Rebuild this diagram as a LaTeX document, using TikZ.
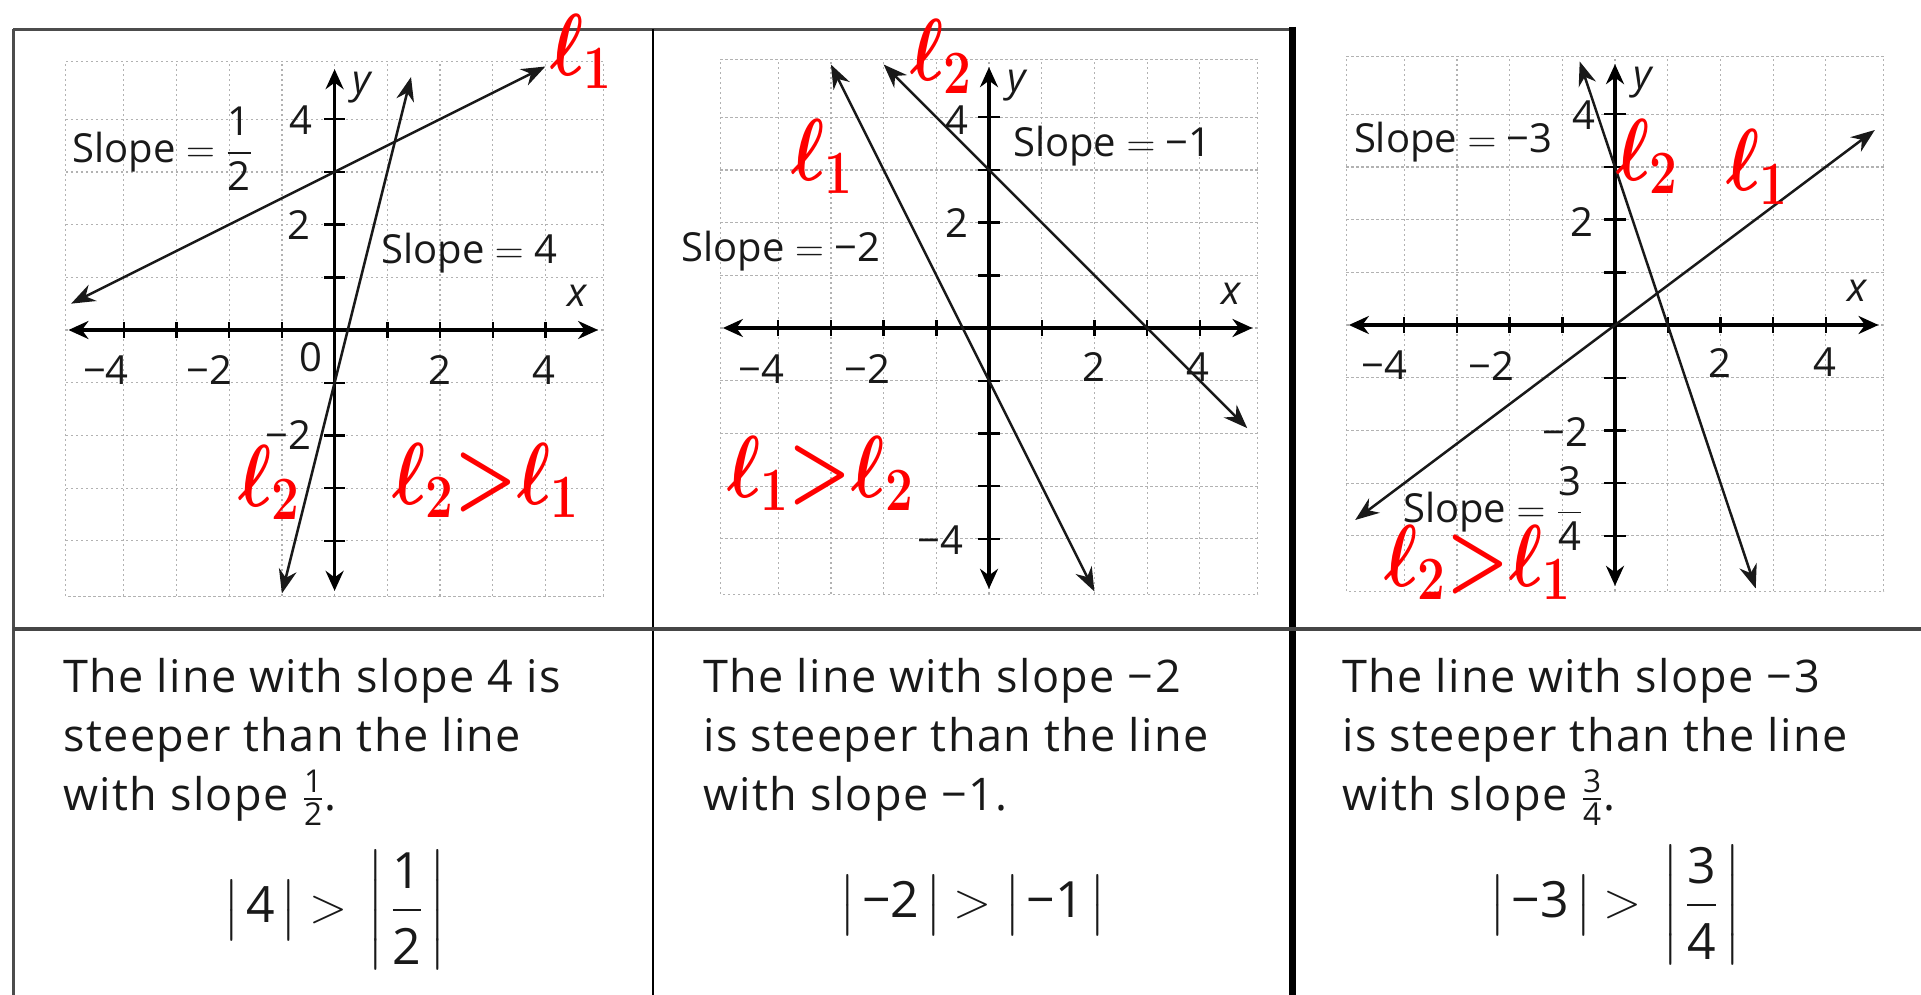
\RequirePackage{fix-cm}
\documentclass[tikz,border=0pt]{standalone}
\usepackage{amsmath}
\usepackage{fontspec}
\setmainfont{Open Sans}
\newfontfamily\bodyfont[LetterSpace=3]{Open Sans}
\usetikzlibrary{arrows.meta}
\tikzset{
  gridline/.style={gray!60, line width=0.6pt, dash pattern=on 1.2pt off 1.3pt},
  axisline/.style={black, line width=1.8pt, {Stealth[length=10pt,width=9pt]}-{Stealth[length=10pt,width=9pt]}},
  tickmark/.style={black, line width=1.2pt},
  gline/.style={black!90, line width=1.25pt, {Stealth[length=12pt,width=9pt]}-{Stealth[length=12pt,width=9pt]}},
  glabel/.style={font=\fontsize{20}{24}\selectfont, text=black!90, inner sep=0pt},
  axlabel/.style={font=\fontsize{20}{24}\selectfont\itshape, text=black!90, inner sep=0pt},
  hand/.style={font=\fontsize{44}{44}\selectfont\boldmath, text=red, inner sep=0pt},
  bodytext/.style={font=\bodyfont\fontsize{22.5}{30}\selectfont, text=black!90, inner sep=0pt, anchor=base west},
  formula/.style={font=\fontsize{25}{30}\selectfont, text=black!90, inner sep=0pt},
  outerline/.style={gray!60!black, line width=1.5pt},
  thinsep/.style={black, line width=1pt},
  thicksep/.style={black, line width=3.5pt},
  hsep/.style={gray!55!black, line width=2pt}
}
\newcommand\panelbase[1]{%
  \draw[gridline] (-5.1,-5.05) rectangle (5.1,5.1);
  \foreach \i in {-4,...,4}{\draw[gridline] (\i,-5.05) -- (\i,5.1); \draw[gridline] (-5.1,\i) -- (5.1,\i);}
  \coordinate (#1xl) at (-5.05,0); \coordinate (#1xr) at (5.0,0);
  \coordinate (#1yb) at (0,-4.95); \coordinate (#1yt) at (0,4.95);
  \draw[axisline] (#1xl) -- (#1xr);
  \draw[axisline] (#1yb) -- (#1yt);
  \foreach \i in {-4,...,-1,1,2,3,4}{\draw[tickmark] (\i,-0.15) -- (\i,0.15); \draw[tickmark] (-0.2,\i) -- (0.2,\i);}
  \node[axlabel] (#1xlab) at (4.6,0.65) {x};
  \node[axlabel] (#1ylab) at (0.52,4.6) {y};
}
\newcommand\hl[1]{\scalebox{0.8}[1]{$#1$}}
\newcommand\gt{\hspace{6pt}\mathord{>}\hspace{6pt}}
\newcommand\bsp{\hspace{3pt}}
\newcommand\bigfrac[2]{\dfrac{\text{#1}\rule[-6pt]{0pt}{6pt}}{\rule{0pt}{24pt}\text{#2}}}
\begin{document}
\begin{tikzpicture}[x=0.5pt,y=-0.5pt]
\useasboundingbox (0,0) rectangle (1921,995);
% frame
\coordinate (ftl) at (13,29.5); \coordinate (ftr) at (1292,29.5);
\coordinate (fbl) at (13,995);
\draw[outerline] (ftl) -- (ftr);
\draw[outerline] (ftl) -- (fbl);
\coordinate (d1t) at (653,29.5); \coordinate (d1b) at (653,995);
\draw[thinsep] (d1t) -- (d1b);
\coordinate (d2t) at (1292,27); \coordinate (d2b) at (1292,995);
\draw[thicksep] (d2t) -- (d2b);
\coordinate (hl) at (13,629); \coordinate (hr) at (1921,629);
\draw[hsep] (hl) -- (hr);

% ---------- panel 1
\begin{scope}[shift={(334.6,330)}, x=26.35pt, y=26.35pt]
  \panelbase{p1}
  \coordinate (p1a) at (-5,0.5); \coordinate (p1b) at (4,5);
  \coordinate (p1c) at (-1,-5); \coordinate (p1d) at (1.45,4.8);
  \draw[gline] (p1a) -- (p1b);
  \draw[gline] (p1c) -- (p1d);
  \node[glabel, anchor=base west] (p1s1) at (-4.98,3.17) {Slope $=$ $\dfrac{\text{1}}{\text{2}}$};
  \node[glabel, anchor=base west] (p1s2) at (0.88,1.26) {Slope $=$ 4};
  \node[glabel] (p1t0) at (-0.44,-0.52) {0};
  \node[glabel] (p1tx1) at (-4.34,-0.76) {−4};
  \node[glabel] (p1tx2) at (-2.37,-0.76) {−2};
  \node[glabel] (p1tx3) at (2.0,-0.76) {2};
  \node[glabel] (p1tx4) at (3.98,-0.76) {4};
  \node[glabel] (p1ty1) at (-0.64,3.98) {4};
  \node[glabel] (p1ty2) at (-0.67,2.0) {2};
  \node[glabel] (p1ty3) at (-0.88,-2.0) {−2};
  \node[hand] (p1r1) at (4.68,5.29) {\hl{\ell_1}};
  \node[hand] (p1r2) at (-1.24,-2.9) {\hl{\ell_2}};
  \node[hand] (p1r3) at (2.87,-2.85) {\hl{\ell_2\mathord{>}\ell_1}};
\end{scope}

% ---------- panel 2
\begin{scope}[shift={(989,328)}, x=26.35pt, y=26.35pt]
  \panelbase{p2}
  \coordinate (p2a) at (-3,5); \coordinate (p2b) at (2,-5);
  \coordinate (p2c) at (-2,5); \coordinate (p2d) at (4.9,-1.9);
  \draw[gline] (p2a) -- (p2b);
  \draw[gline] (p2c) -- (p2d);
  \node[glabel, anchor=base west] (p2s1) at (0.45,3.25) {Slope $=$ −1};
  \node[glabel, anchor=base west] (p2s2) at (-5.84,1.26) {Slope $=$ −2};
  \node[glabel] (p2tx1) at (-4.32,-0.78) {−4};
  \node[glabel] (p2tx2) at (-2.31,-0.78) {−2};
  \node[glabel] (p2tx3) at (1.99,-0.74) {2};
  \node[glabel] (p2tx4) at (3.96,-0.74) {4};
  \node[glabel] (p2ty1) at (-0.61,3.94) {4};
  \node[glabel] (p2ty2) at (-0.61,2.0) {2};
  \node[glabel] (p2ty3) at (-0.93,-4.02) {−4};
  \node[hand] (p2r1) at (-0.9,5.15) {\hl{\ell_2}};
  \node[hand] (p2r2) at (-3.17,3.25) {\hl{\ell_1}};
  \node[hand] (p2r3) at (-3.2,-2.76) {\hl{\ell_1\mathord{>}\ell_2}};
\end{scope}

% ---------- panel 3
\begin{scope}[shift={(1615,325)}, x=26.35pt, y=26.35pt]
  \panelbase{p3}
  \coordinate (p3a) at (-4.93,-3.7); \coordinate (p3b) at (4.93,3.7);
  \coordinate (p3c) at (-0.67,5); \coordinate (p3d) at (2.67,-5);
  \draw[gline] (p3a) -- (p3b);
  \draw[gline] (p3c) -- (p3d);
  \node[glabel, anchor=base west] (p3s1) at (-4.96,3.27) {Slope $=$ −3};
  \node[glabel, anchor=base west] (p3s2) at (-4.03,-3.75) {Slope $=$ $\dfrac{\text{3}}{\text{4}}$};
  \node[glabel] (p3tx1) at (-4.37,-0.77) {−4};
  \node[glabel] (p3tx2) at (-2.34,-0.77) {−2};
  \node[glabel] (p3tx3) at (1.99,-0.73) {2};
  \node[glabel] (p3tx4) at (3.98,-0.70) {4};
  \node[glabel] (p3ty1) at (-0.59,3.98) {4};
  \node[glabel] (p3ty2) at (-0.62,1.96) {2};
  \node[glabel] (p3ty3) at (-0.94,-2.04) {−2};
  \node[hand] (p3r1) at (0.61,3.2) {\hl{\ell_2}};
  \node[hand] (p3r2) at (2.7,3.0) {\hl{\ell_1}};
  \node[hand] (p3r3) at (-2.6,-4.5) {\hl{\ell_2\mathord{>}\ell_1}};
\end{scope}

% ---------- bottom texts
\node[bodytext] (c1l1) at (63,692) {The line with slope 4 is};
\node[bodytext] (c1l2) at (63,751) {steeper than the line};
\node[bodytext] (c1l3) at (63,810) {with slope $\tfrac{\text{1}}{\text{2}}$.};
\node[formula] (c1f) at (335,910) {$\bigl|\bsp\text{4}\bsp\bigr| \gt \left|\bsp\bigfrac{1}{2}\bsp\right|$};

\node[bodytext] (c2l1) at (703,692) {The line with slope −2};
\node[bodytext] (c2l2) at (703,751) {is steeper than the line};
\node[bodytext] (c2l3) at (703,810) {with slope −1.};
\node[formula] (c2f) at (973,905) {$\bigl|\bsp\text{−2}\bsp\bigr| \gt \bigl|\bsp\text{−1}\bsp\bigr|$};

\node[bodytext] (c3l1) at (1342,692) {The line with slope −3};
\node[bodytext] (c3l2) at (1342,751) {is steeper than the line};
\node[bodytext] (c3l3) at (1342,810) {with slope $\tfrac{\text{3}}{\text{4}}$.};
\node[formula] (c3f) at (1615,905) {$\bigl|\bsp\text{−3}\bsp\bigr| \gt \left|\bsp\bigfrac{3}{4}\bsp\right|$};
\end{tikzpicture}
\end{document}
